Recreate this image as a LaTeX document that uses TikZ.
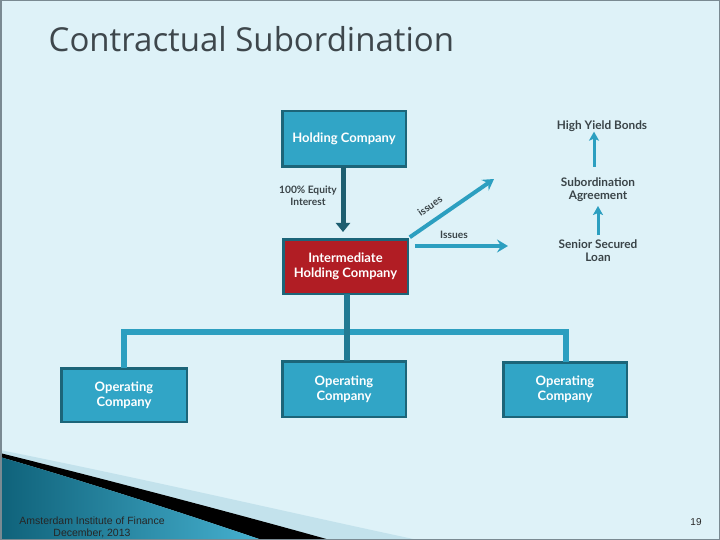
\documentclass[tikz,border=0pt]{standalone}
\usepackage{fontspec}
\setmainfont{Lato}
\newfontfamily\titlefont{Open Sans}
\newfontfamily\footfont{Liberation Sans}
\usetikzlibrary{arrows.meta}
\definecolor{bgc}{HTML}{DEF2F8}
\definecolor{framec}{HTML}{7A8A92}
\definecolor{boxfill}{HTML}{31A5C6}
\definecolor{boxedge}{HTML}{1C6579}
\definecolor{redfill}{HTML}{B11D24}
\definecolor{darkarrow}{HTML}{1D5E70}
\definecolor{teal}{HTML}{2C9FC0}
\definecolor{tealdark}{HTML}{217A93}
\definecolor{txt}{HTML}{3A4448}
\definecolor{titlec}{HTML}{3E474C}
\definecolor{swdark}{HTML}{0F627A}
\definecolor{swlight}{HTML}{46B1D0}
\definecolor{swband}{HTML}{C3E2EC}
\tikzset{
  cbox/.style={draw=boxedge, line width=2.5pt, fill=boxfill, text=white, align=center,
    inner sep=0pt, outer sep=0pt, font=\fontsize{13}{15}\selectfont\bfseries},
  lbl/.style={text=txt, align=center, inner sep=0pt, font=\fontsize{11.8}{13.5}\selectfont\bfseries},
  smalllbl/.style={text=txt, align=center, inner sep=0pt, font=\fontsize{10.2}{11.5}\selectfont\bfseries},
  issuearrow/.style={draw=teal, line width=4pt, -{Stealth[length=11pt,width=13pt,inset=4pt]}},
  uparrow/.style={draw=teal, line width=3pt, -{Stealth[length=9pt,width=10pt,inset=2pt]}},
  barline/.style={draw=teal, line width=5.5pt},
  stemline/.style={draw=tealdark, line width=5.5pt},
}
\begin{document}
\begin{tikzpicture}[x=1pt,y=-1pt]
\useasboundingbox (0,0) rectangle (720,540);
\fill[bgc] (0,0) rectangle (720,540);
% bottom-left swoosh
\fill[swband] (0,450) .. controls (150,480) and (300,515) .. (418,540) -- (0,540) -- cycle;
\fill[black] (0,453) .. controls (100,478) and (230,512) .. (330,540) -- (262,540) .. controls (180,512) and (80,480) .. (0,457) -- cycle;
\shade[left color=swdark, right color=swlight] (0,457) .. controls (80,480) and (180,512) .. (262,540) -- (0,540) -- cycle;
\draw[framec, line width=1.5pt] (0.75,0.75) rectangle (719.25,539.25);
% title
\node[anchor=base west, inner sep=0pt, text=titlec, font=\titlefont\fontsize{33}{36}\selectfont] (title) at (48.5,52) {Contractual Subordination};
% boxes
\node[cbox, minimum width=123.5pt, minimum height=55.5pt] (hold) at (344,139) {Holding Company};
\node[cbox, fill=redfill, minimum width=124.5pt, minimum height=54.5pt] (inter) at (345.5,266.5) {Intermediate\\Holding Company};
\node[cbox, minimum width=125.5pt, minimum height=53.5pt] (opL) at (124,395) {Operating\\Company};
\node[cbox, minimum width=123.5pt, minimum height=55.5pt] (opM) at (344,389) {Operating\\Company};
\node[cbox, minimum width=123.5pt, minimum height=54.5pt] (opR) at (565,389.5) {Operating\\Company};
% equity arrow
\draw[draw=darkarrow, line width=5pt, -{Triangle[length=9pt,width=14pt]}] (hold.south -| 343,0) -- (343,232);
\node[smalllbl] (eq) at (308,196) {100\% Equity\\Interest};
% issues arrows
\coordinate (diagEnd) at (494,179);
\coordinate (horEnd) at (508,246);
\draw[issuearrow] (inter.north east) ++(2,-2) -- (diagEnd);
\draw[issuearrow] (inter.east |- 0,246) ++(7,0) -- (horEnd);
\node[smalllbl, rotate=35] (iss1) at (430,206) {issues};
\node[smalllbl] (iss2) at (454,235) {Issues};
% right column
\node[lbl] (hyb) at (602,126) {High Yield Bonds};
\node[lbl] (sub) at (598,189.5) {Subordination\\Agreement};
\node[lbl] (ssl) at (598,250.5) {Senior Secured\\Loan};
\draw[uparrow] (594,167) -- (hyb.south -| 594,0);
\draw[uparrow] (598,235) -- (598,206);
% org lines
\coordinate (barL) at (124,332);
\coordinate (barM) at (347,332);
\coordinate (barR) at (566,332);
\draw[barline, line join=miter] (opL.north -| barL) -- (barL) -- (barR) -- (opR.north -| barR);
\draw[stemline] (inter.south -| barM) -- (opM.north -| barM);
% footer
\node[inner sep=0pt, align=center, text=black!85, font=\footfont\fontsize{10.5}{12}\selectfont] (foot) at (92,527.5) {Amsterdam Institute of Finance\\December, 2013};
\node[inner sep=0pt, text=black!85, font=\footfont\fontsize{10}{11}\selectfont] (pg) at (696,522) {19};
\end{tikzpicture}
\end{document}
